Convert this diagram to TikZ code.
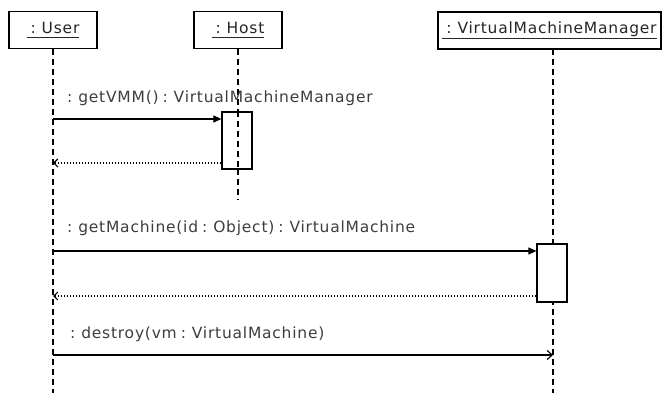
\documentclass[tikz,border=0pt]{standalone}
\usepackage{fontspec}
\setmainfont{DejaVu Sans}
\newfontfamily\diagface{DejaVu Sans}[LetterSpace=5,WordSpace=0.7]
\usetikzlibrary{arrows.meta}
\definecolor{labelgray}{gray}{0.24}
\newcommand{\diagfont}{\diagface\fontsize{15.5}{17}\selectfont}
\newcommand{\objname}[1]{\underline{#1\vphantom{g}}}
\tikzset{
  objbox/.style={draw, line width=1.2pt, minimum height=37pt, inner sep=0pt,
    font=\diagfont, text=black!85},
  actbox/.style={draw, line width=1.2pt, fill=white, minimum width=30pt, inner sep=0pt},
  lifeline/.style={line width=1.1pt, dash pattern=on 6pt off 4pt},
  callmsg/.style={line width=1.1pt, -{Triangle[length=8pt,width=7pt]}},
  replymsg/.style={line width=1.1pt, dash pattern=on 1pt off 2pt, -{Straight Barb[length=4pt,width=8pt]}},
  asyncmsg/.style={line width=1.1pt, -{Straight Barb[length=5pt,width=9pt]}},
  msglabel/.style={anchor=base west, inner sep=0pt, text=labelgray, font=\diagfont}
}
\begin{document}
\begin{tikzpicture}[x=1pt,y=-1pt]
\useasboundingbox (0,0) rectangle (662,393);

% participants
\node[objbox, minimum width=88pt] (user) at (53,30) {\objname{\ : User}};
\node[objbox, minimum width=88pt] (host) at (238,30) {\objname{\ : Host}};
\node[objbox, minimum width=223pt] (vmm) at (549.5,30.5) {\objname{\ : VirtualMachineManager}};

% lifeline ends
\coordinate (userend) at (53,393);
\coordinate (hosttop) at (238,49);
\coordinate (hostend) at (238,200);
\coordinate (vmmtop) at (553,49);
\coordinate (vmmend) at (553,393);

\draw[lifeline] (user.south) -- (userend);
\draw[lifeline] (hosttop) -- (hostend);
\draw[lifeline] (vmmtop) -- (vmmend);

% activations
\node[actbox, minimum height=57pt] (hact) at (237,140.5) {};
\draw[lifeline] (hact.north -| hosttop) -- (hact.south -| hosttop);
\node[actbox, minimum height=58pt] (vact) at (552,273) {};

% points on the user lifeline
\coordinate (u1) at (53,119);
\coordinate (u1r) at (53,163);
\coordinate (u2) at (53,251);
\coordinate (u2r) at (53,296);
\coordinate (u3) at (53,355);
\coordinate (v3) at (553,355);

% messages
\draw[callmsg] (u1) -- (u1 -| hact.west);
\node[msglabel] (l1) at (67,103) {: getVMM() : VirtualMachineManager};
\draw[replymsg] (u1r -| hact.west) -- (u1r);

\draw[callmsg] (u2) -- (u2 -| vact.west);
\node[msglabel] (l2) at (67,233) {: getMachine(id : Object) : VirtualMachine};
\draw[replymsg] (u2r -| vact.west) -- (u2r);

\draw[asyncmsg] (u3) -- (v3);
\node[msglabel] (l3) at (70,338) {: destroy(vm : VirtualMachine)};
\end{tikzpicture}
\end{document}
